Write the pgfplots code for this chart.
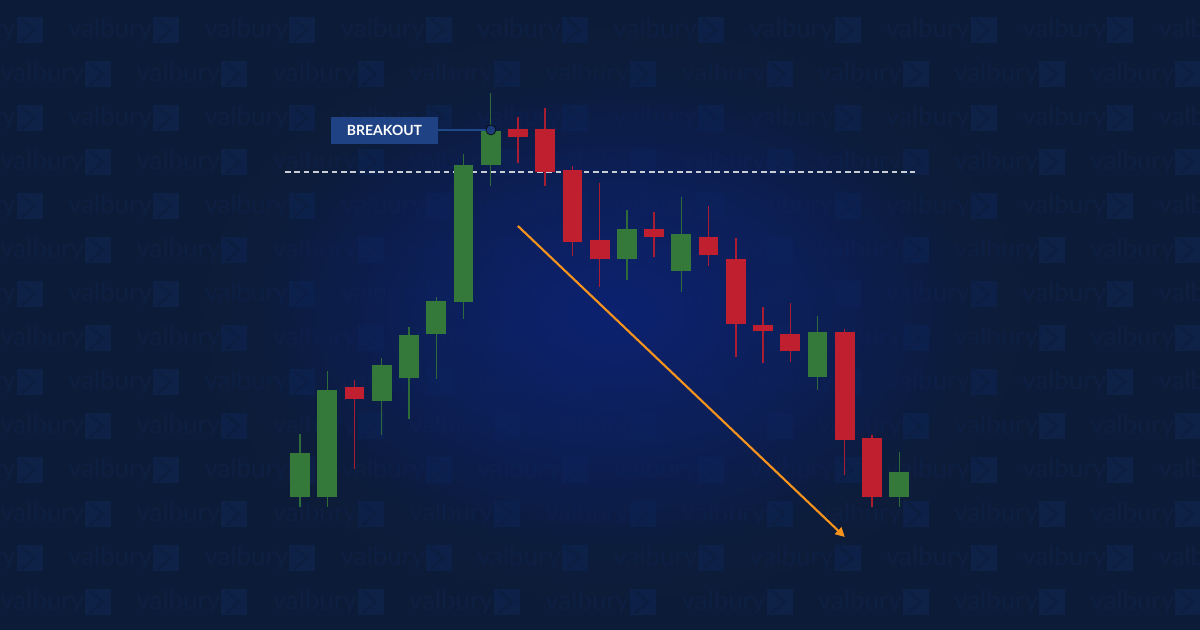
\documentclass[border=0pt]{standalone}
\usepackage{pgfplots}
\pgfplotsset{compat=1.18}
\usepackage{pgfplotstable}
\usepackage{fontspec}
\setmainfont{Lato}
\usetikzlibrary{fadings,arrows.meta}

\definecolor{bg}{HTML}{0C1C38}
\definecolor{glow}{HTML}{0C2270}
\definecolor{wm}{HTML}{0E2042}
\definecolor{wmlogo}{HTML}{0E2248}
\definecolor{cgreen}{HTML}{34783A}
\definecolor{cred}{HTML}{BF1F2F}
\definecolor{gwick}{HTML}{2F6B3A}
\definecolor{rwick}{HTML}{A81D31}
\definecolor{boxblue}{HTML}{1F4284}
\definecolor{linkblue}{HTML}{1E4A8C}
\definecolor{dotblue}{HTML}{1B3C78}
\definecolor{dashc}{HTML}{C8CDD6}
\definecolor{arrowc}{HTML}{F7941D}

\tikzfading[name=glowfade, inner color=transparent!0, outer color=transparent!100]

% candle index, open, high, low, close (price units)
\pgfplotstableread{
i  open  high  low   close
1  133.3 196.0 123.3 176.7
2  133.3 259.3 123.3 240.0
4  229.3 272.3 195.3 264.7
5  252.3 303.3 211.0 295.0
6  295.7 333.3 251.3 329.0
7  328.3 476.0 311.3 465.0
8  465.3 537.3 444.0 499.3
13 371.3 420.0 350.0 401.3
15 359.3 433.0 338.0 395.7
20 253.3 314.0 240.0 297.7
23 133.3 178.0 123.3 158.3
}\greencandles

\pgfplotstableread{
i  open  high  low   close
3  243.0 250.0 160.7 230.7
9  500.7 512.7 466.7 493.3
10 500.7 521.7 444.0 458.3
11 459.7 464.0 374.3 388.3
12 390.0 447.3 343.3 371.3
14 401.3 417.7 372.7 393.3
16 392.7 424.0 364.0 375.3
17 371.3 392.0 273.3 305.7
18 305.3 323.3 266.7 298.7
19 296.3 327.3 267.7 279.0
21 297.7 300.7 155.0 190.0
22 191.7 195.0 123.3 133.3
}\redcandles

\begin{document}
\begin{tikzpicture}
\begin{scope}[x=0.75pt,y=0.75pt]
  \fill[bg] (0,0) rectangle (1200,630);
  \begin{scope}
    \clip (0,0) rectangle (1200,630);
    \foreach \k in {0,...,13} {
      \pgfmathsetmacro\yy{600-44*\k}
      \pgfmathsetmacro\xo{ifthenelse(mod(\k,2)==0,68,0)}
      \foreach \m in {-1,...,8} {
        \pgfmathsetmacro\xx{\xo+136.3*\m}
        \node[anchor=west, inner sep=0pt, text=wm, font=\fontsize{19.4}{19.4}\selectfont] at (\xx,\yy) {valbury};
        \fill[wmlogo] (\xx+85,\yy-13) rectangle ++(26,26);
        \draw[bg!50!wmlogo, line width=2pt] (\xx+90,\yy+11) -- (\xx+103,\yy) -- (\xx+90,\yy-11);
      }
    }
  \end{scope}
  \fill[bg!70!glow, path fading=glowfade] (613,317) ellipse [x radius=430, y radius=300];
  \fill[glow, path fading=glowfade] (613,317) ellipse [x radius=360, y radius=240];
\end{scope}

\begin{axis}[
  at={(0pt,0pt)}, anchor=south west,
  scale only axis, width=900pt, height=472.5pt,
  xmin=-10.013, xmax=34.04, ymin=0, ymax=630,
  hide axis, clip=false]

% dashed resistance level
\addplot[dashc, line width=1pt, dash pattern=on 4.3pt off 2.7pt] coordinates {(0.45,458) (23.58,458)};

% wicks
\addplot[draw=none, forget plot, error bars/.cd, y dir=plus, y explicit, error mark=none,
  error bar style={gwick, line width=1pt}]
  table[x=i, y=low, y error plus expr={\thisrow{high}-\thisrow{low}}] {\greencandles};
\addplot[draw=none, forget plot, error bars/.cd, y dir=plus, y explicit, error mark=none,
  error bar style={rwick, line width=1pt}]
  table[x=i, y=low, y error plus expr={\thisrow{high}-\thisrow{low}}] {\redcandles};

% bodies
\addplot[draw=none, forget plot, error bars/.cd, y dir=plus, y explicit, error mark=none,
  error bar style={cgreen, line width=14.8pt, line cap=butt}]
  table[x=i, y=open, y error plus expr={\thisrow{close}-\thisrow{open}}] {\greencandles};
\addplot[draw=none, forget plot, error bars/.cd, y dir=plus, y explicit, error mark=none,
  error bar style={cred, line width=14.8pt, line cap=butt}]
  table[x=i, y=close, y error plus expr={\thisrow{open}-\thisrow{close}}] {\redcandles};

% trend arrow
\addplot[arrowc, line width=1.6pt, -{Triangle[length=7pt,width=7pt]}] coordinates {(9.0,404) (21.0,93)};

% breakout label
\addplot[linkblue, line width=1.7pt] coordinates {(6.066,500) (8.01,500)};
\addplot[only marks, mark=*, mark size=3.75pt, mark options={fill=dotblue, draw=none}] coordinates {(8.01,500)};
\node[fill=boxblue, minimum width=80.25pt, minimum height=19.8pt, inner sep=0pt, text=white,
  font=\bfseries\fontsize{10.5}{12}\selectfont] at (axis cs:4.102,499.5) {BREAKOUT};
\end{axis}
\end{tikzpicture}
\end{document}
